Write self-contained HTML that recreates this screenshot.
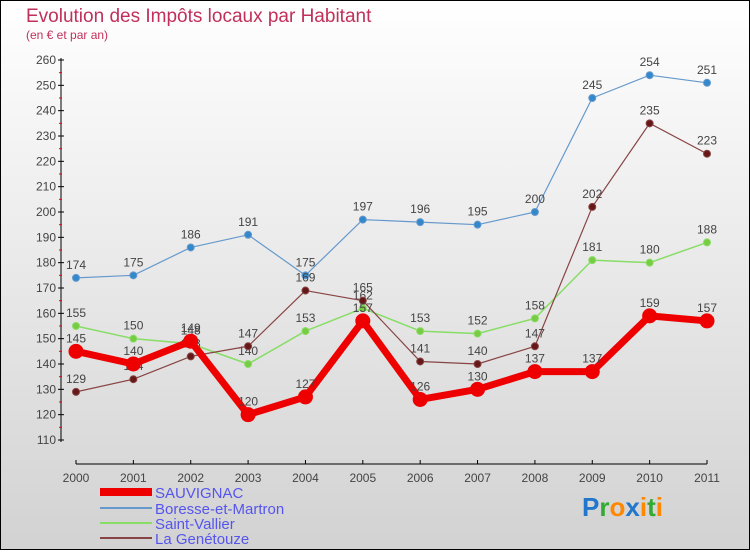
<!DOCTYPE html>
<html><head><meta charset="utf-8"><style>
body{margin:0}
#c{width:750px;height:550px;position:relative;font-family:"Liberation Sans",sans-serif}
svg text{font-family:"Liberation Sans",sans-serif}
</style></head><body>
<div id="c">
<svg id="s" width="750" height="550">
<defs><linearGradient id="bg" x1="0" y1="0" x2="0" y2="1"><stop offset="0" stop-color="#ffffff"/><stop offset="1" stop-color="#d2d2d2"/></linearGradient></defs>
<rect x="0.5" y="0.5" width="749" height="549" fill="url(#bg)" stroke="#000"/>
<text x="26" y="22" font-size="19" fill="#c0305a">Evolution des Impôts locaux par Habitant</text>
<text x="26" y="39" font-size="12" fill="#c0305a">(en € et par an)</text>
<g id="axes"></g><g id="series"></g>
<g>
<rect x="100" y="488" width="52" height="8" fill="#ee0000"/>
<text x="155" y="498" font-size="15" fill="#5555ee">SAUVIGNAC</text>
<line x1="100" y1="508" x2="152" y2="508" stroke="#6699cc" stroke-width="2"/>
<text x="155" y="514" font-size="15" fill="#5555ee">Boresse-et-Martron</text>
<line x1="100" y1="523" x2="152" y2="523" stroke="#88dd66" stroke-width="2"/>
<text x="155" y="529" font-size="15" fill="#5555ee">Saint-Vallier</text>
<line x1="100" y1="538" x2="152" y2="538" stroke="#884444" stroke-width="2"/>
<text x="155" y="544" font-size="15" fill="#5555ee">La Genétouze</text>
</g>
<text x="582" y="516" font-size="26" font-weight="bold"><tspan fill="#2277cc">P</tspan><tspan fill="#33aa33">r</tspan><tspan fill="#ff8800">o</tspan><tspan fill="#2277cc">x</tspan><tspan fill="#ff8800">i</tspan><tspan fill="#33aa33">t</tspan><tspan fill="#ff8800">i</tspan></text>
</svg></div>
<script>
const years=[2000,2001,2002,2003,2004,2005,2006,2007,2008,2009,2010,2011];
const yTicks=[110,120,130,140,150,160,170,180,190,200,210,220,230,240,250,260];
const sauvignac=[145,140,149,120,127,157,126,130,137,137,159,157];
const boresse=[174,175,186,191,175,197,196,195,200,245,254,251];
const saintVallier=[155,150,148,140,153,162,153,152,158,181,180,188];
const genetouze=[129,134,143,147,169,165,141,140,147,202,235,223];
const NS="http://www.w3.org/2000/svg";
function X(i){return 76+i*(707-76)/11;}
function Y(v){return 440-(v-110)*(380/150);}
function mk(t,a,p){const e=document.createElementNS(NS,t);for(const k in a)e.setAttribute(k,a[k]);p.appendChild(e);return e;}
const ax=document.getElementById('axes');
mk('line',{x1:61,y1:58,x2:61,y2:442,stroke:'#000'},ax);
yTicks.forEach(v=>{
 mk('line',{x1:58,y1:Y(v),x2:64,y2:Y(v),stroke:'#000'},ax);
 if(v<260)mk('line',{x1:59,y1:Y(v+5),x2:62,y2:Y(v+5),stroke:'#e00'},ax);
 const t=mk('text',{x:56,y:Y(v)+4,'font-size':12,fill:'#444','text-anchor':'end'},ax);
 
 
 t.textContent=v;
});
mk('line',{x1:76,y1:464,x2:707,y2:464,stroke:'#000'},ax);
years.forEach((y,i)=>{
 mk('line',{x1:X(i),y1:460,x2:X(i),y2:464,stroke:'#000'},ax);
 const t=mk('text',{x:X(i),y:482,'font-size':12,fill:'#444','text-anchor':'middle'},ax);
 
 
 t.textContent=y;
});
const sg=document.getElementById('series');
function draw(vals,name,color,w,r,dot){
 const g=mk('g',{},sg);
 
 
 mk('polyline',{points:vals.map((v,i)=>X(i)+','+Y(v)).join(' '),fill:'none',stroke:color,'stroke-width':w,'stroke-linejoin':'round'},g);
 vals.forEach((v,i)=>{
  const c=mk('circle',{cx:X(i),cy:Y(v),r:r,fill:dot,stroke:color,'stroke-width':1},g);
  
  
  const t=mk('text',{x:X(i),y:Y(v)-9,'font-size':12,fill:'#444','text-anchor':'middle'},g);
  
  
  t.textContent=v;
 });
}
draw(boresse,'boresse','#6699cc',1.2,3.5,'#3388cc');
draw(saintVallier,'saint-vallier','#88dd66',1.5,3.5,'#77cc44');
draw(genetouze,'la-genetouze','#884444',1.2,3.5,'#661818');
draw(sauvignac,'sauvignac','#ee0000',7,7,'#ee0000');
</script>
</body></html>
